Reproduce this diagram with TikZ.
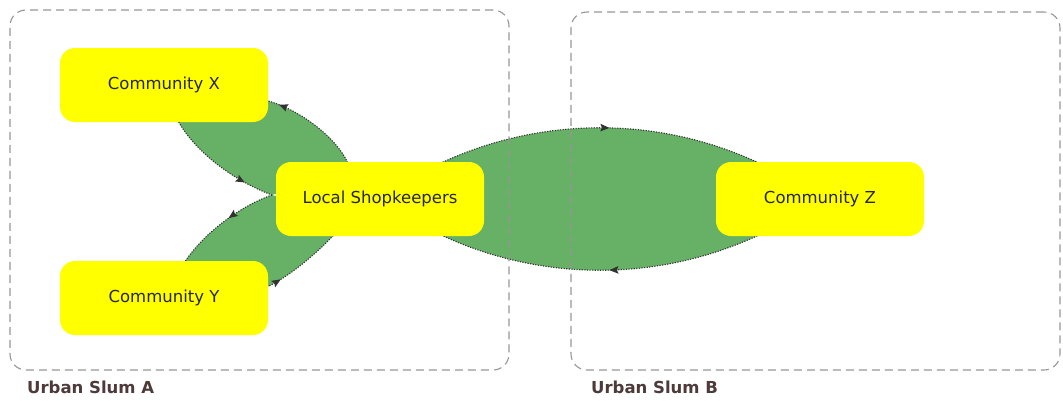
\documentclass[tikz,border=0pt]{standalone}
\usepackage{fontspec}
\setmainfont{DejaVu Sans}
\usetikzlibrary{arrows.meta,decorations.markings}
\definecolor{lensgreen}{RGB}{103,177,103}
\definecolor{edgegray}{RGB}{50,50,50}
\definecolor{boxgray}{RGB}{150,150,150}
\definecolor{labelbrown}{RGB}{77,58,58}
\definecolor{nodeyellow}{RGB}{255,255,0}
\tikzset{
  community/.style={draw=none, fill=nodeyellow, rounded corners=15pt,
    minimum width=208pt, minimum height=74pt, inner sep=0pt,
    text=black!85, font=\fontsize{16.5}{20}\selectfont},
  slumbox/.style={draw=boxgray, line width=1.1pt, dash pattern=on 8pt off 5pt,
    rounded corners=16pt, inner sep=0pt},
  slumlabel/.style={anchor=base west, inner sep=0pt, text=labelbrown,
    font=\fontsize{16.5}{20}\selectfont\bfseries},
  lensedge/.style={draw=edgegray, dash pattern=on 1.2pt off 1.4pt, line width=1.1pt},
  arrowat/.style={postaction={decorate}, decoration={markings,
    mark=at position #1 with {\arrow[solid,edgegray]{Stealth[length=9pt,width=7.5pt,inset=1.5pt]}}}}
}
\begin{document}
\begin{tikzpicture}[x=1pt,y=-1pt]
\useasboundingbox (0,0) rectangle (1063,400);

\path (164,85) coordinate (cX) (164,298) coordinate (cY) (380,199) coordinate (cS) (820,199) coordinate (cZ);

% small lens endpoints
\coordinate (xa) at (172,108);
\coordinate (sa) at (272,195);
\coordinate (sb) at (350,170);
\coordinate (xb) at (255,98);
\coordinate (ya) at (172,288);
\coordinate (yb) at (255,292);
\coordinate (sc) at (352,215);

% green fills
\fill[lensgreen] (cS) .. controls +(131,-95) and +(-131,-95) .. (cZ)
   .. controls +(-131,95) and +(131,95) .. (cS) -- cycle;
\fill[lensgreen] (xa) .. controls +(15,40) and +(-38,-14) .. (sa) -- (sb)
   .. controls +(-5,-25) and +(45,7) .. (xb) -- cycle;
\fill[lensgreen] (sa) .. controls +(-40,14) and +(12,-40) .. (ya) -- (yb)
   .. controls +(40,-14) and +(-17,20) .. (sc) -- cycle;

% lens edges with arrows
\draw[lensedge, arrowat=0.52] (cS) .. controls +(131,-95) and +(-131,-95) .. (cZ);
\draw[lensedge, arrowat=0.48] (cZ) .. controls +(-131,95) and +(131,95) .. (cS);
\draw[lensedge, arrowat=0.78] (xa) .. controls +(15,40) and +(-38,-14) .. (sa);
\draw[lensedge, arrowat=0.8] (sb) .. controls +(-5,-25) and +(45,7) .. (xb);
\draw[lensedge, arrowat=0.35] (sa) .. controls +(-40,14) and +(12,-40) .. (ya);
\draw[lensedge, arrowat=0.23] (yb) .. controls +(40,-14) and +(-17,20) .. (sc);

% slum boxes
\node[slumbox, minimum width=499pt, minimum height=360pt] (slumA) at (259.5,190) {};
\node[slumbox, minimum width=489pt, minimum height=358pt] (slumB) at (815.5,191) {};
\node[slumlabel] (labA) at (27,393) {Urban Slum A};
\node[slumlabel] (labB) at (591,393) {Urban Slum B};

% community nodes
\node[community] (X) at (cX) {Community X};
\node[community] (Y) at (cY) {Community Y};
\node[community] (S) at (cS) {Local Shopkeepers};
\node[community] (Z) at (cZ) {Community Z};
\end{tikzpicture}
\end{document}
